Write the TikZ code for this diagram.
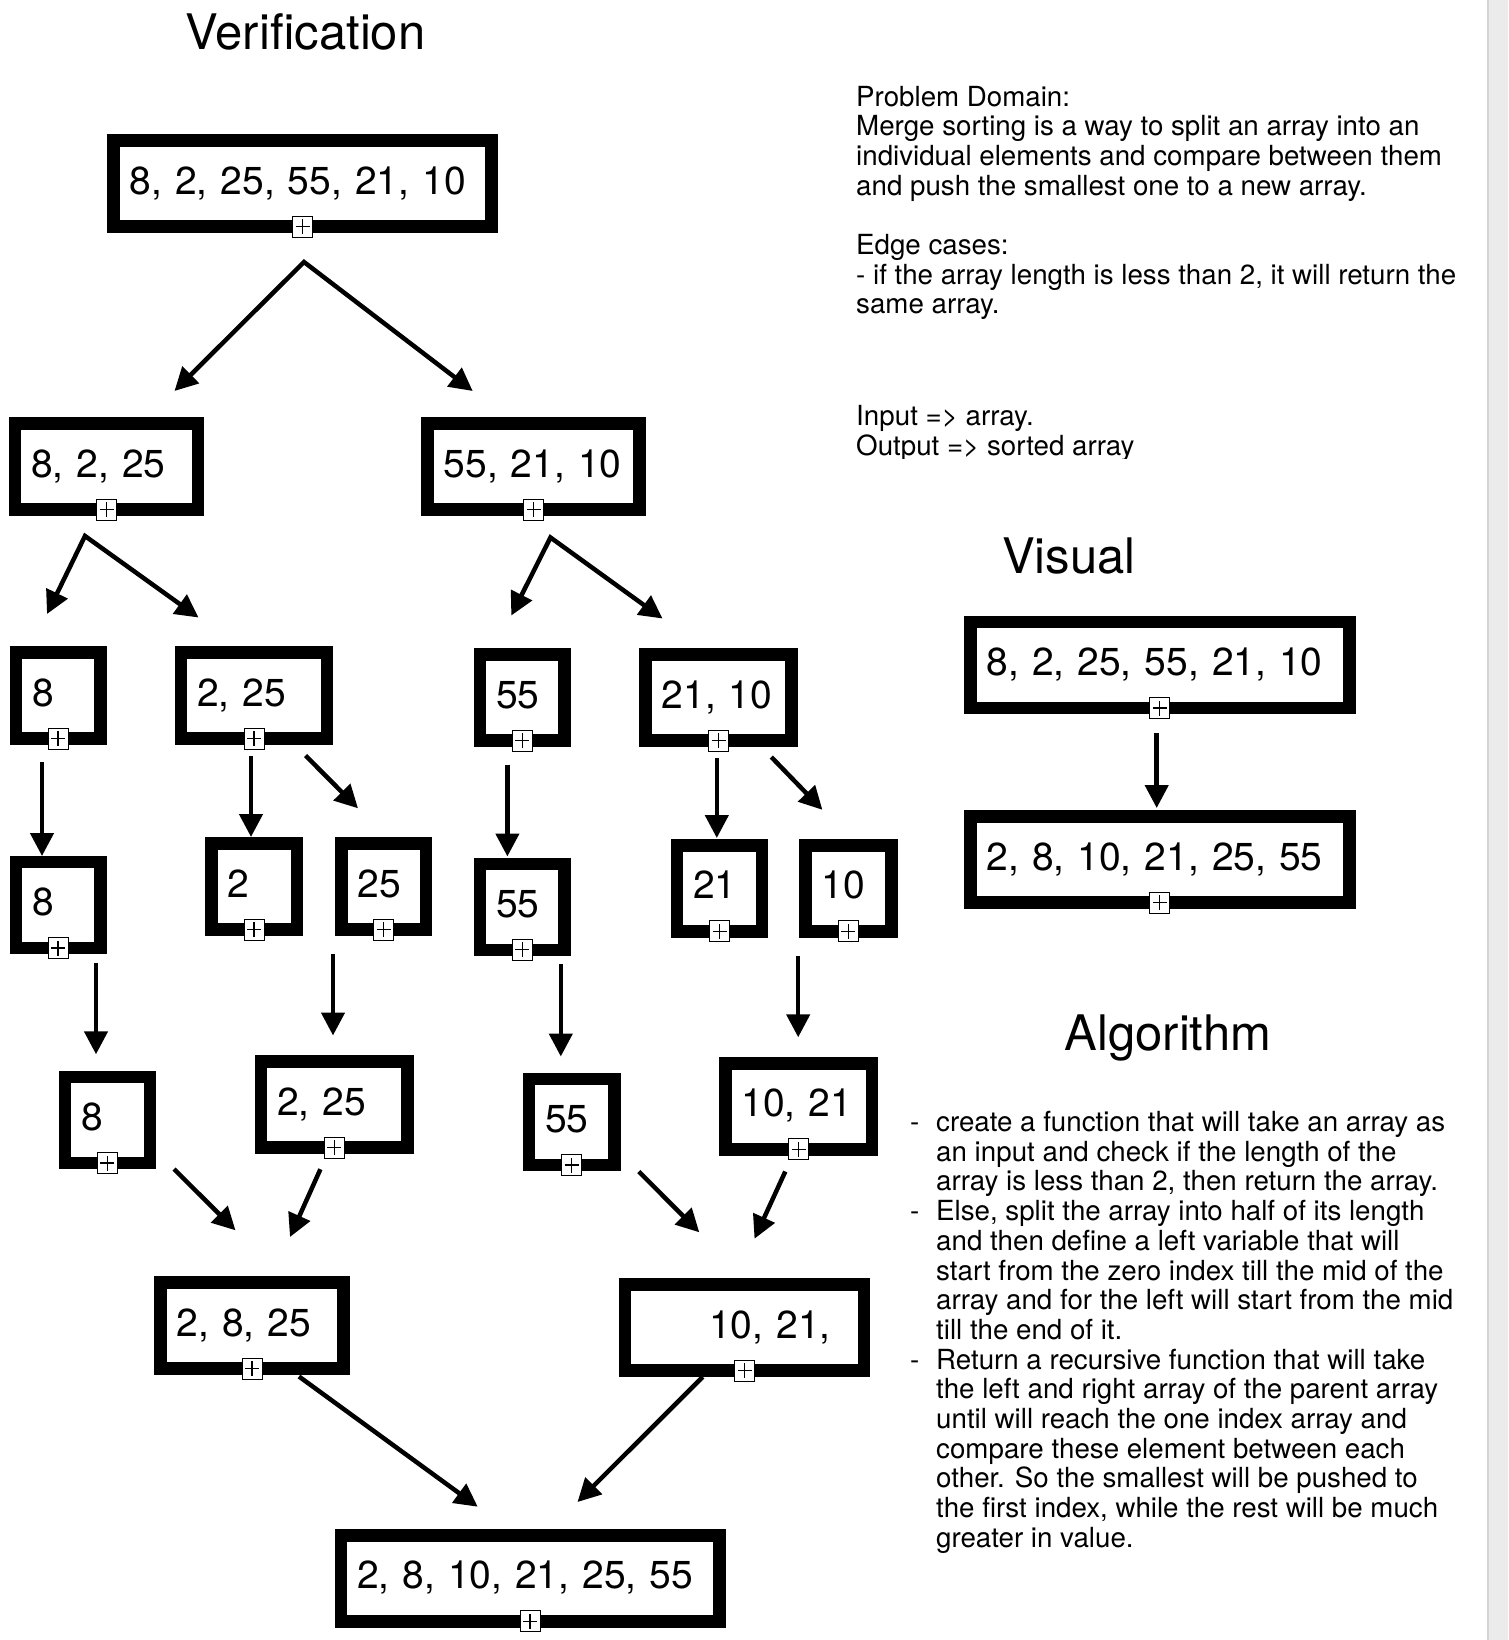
\documentclass[tikz,border=0pt]{standalone}
\usepackage{fontspec}
\setmainfont{TeX Gyre Heros}
\usetikzlibrary{arrows.meta}
\definecolor{stripgray}{HTML}{EBEBEB}
\definecolor{stripedge}{HTML}{D4D4D4}

\begin{document}
\begin{tikzpicture}[x=1pt, y=-1pt,
    box/.style={draw, line width=12.5pt, fill=white, inner xsep=16.25pt, inner ysep=0pt, outer sep=0pt,
      minimum height=86pt, align=left, text height=27.5pt, text depth=6.5pt,
      font=\fontsize{39}{46}\selectfont},
    plusmark/.style={draw, fill=white, line width=1pt, minimum width=20pt, minimum height=21pt, inner sep=0pt,
      path picture={\draw[line width=1.3pt]
        ([xshift=-7pt]path picture bounding box.center) -- ([xshift=7pt]path picture bounding box.center)
        ([yshift=-7.5pt]path picture bounding box.center) -- ([yshift=7.5pt]path picture bounding box.center);}},
    title/.style={anchor=base, inner sep=0pt, font=\fontsize{49}{58}\selectfont},
    body/.style={anchor=base west, inner sep=0pt, align=left, font=\fontsize{27.7}{29.7}\selectfont},
    arr/.style={line width=4.5pt, -{Triangle[length=23pt, width=23pt]}},
    arrs/.style={line width=4.5pt, {Triangle[length=23pt, width=23pt]}-{Triangle[length=23pt, width=23pt]}}]

    \useasboundingbox (0,0) rectangle (1508,1640);
    \fill[stripgray] (1488,0) rectangle (1508,1640);
    \draw[stripedge, line width=1.5pt] (1488,0) -- (1488,1640);

    % split side
    \node[title] (ver) at (305.5,50) {Verification};
    \node[box, text width=345.5pt] (all) at (302.5,183.5) {8, 2, 25, 55, 21, 10};
    \node[box, text width=150.5pt] (lh) at (106.5,466.5) {8, 2, 25};
    \node[box, text width=179.5pt] (rh) at (533.5,466.5) {55, 21, 10};
    \node[box, text width=52pt] (l1) at (58,695.5) {8};
    \node[box, text width=113.5pt] (l2) at (254,695.5) {2, 25};
    \node[box, text width=52pt] (r1) at (522.3,697.5) {55};
    \node[box, text width=113.5pt] (r2) at (718.5,697.5) {21, 10};
    \node[box, text width=52pt] (l11) at (58,905) {8};
    \node[box, text width=53pt] (l21) at (254,886.5) {2};
    \node[box, text width=52pt] (l22) at (383.6,886.5) {25};
    \node[box, text width=52pt] (r11) at (522.3,906.8) {55};
    \node[box, text width=52.5pt] (r21) at (719.5,888.3) {21};
    \node[box, text width=53.5pt] (r22) at (848.3,888.3) {10};

    % merge side
    \node[box, text width=52.5pt] (ml1) at (107.4,1120) {8};
    \node[box, text width=114pt] (ml2) at (334.2,1104.5) {2, 25};
    \node[box, text width=53pt] (mr1) at (571.5,1122) {55};
    \node[box, text width=114pt] (mr2) at (798.5,1106.3) {10, 21};
    \node[box, text width=150.5pt] (ml) at (252,1325.5) {2, 8, 25};
    \node[box, text width=206.5pt] (mr) at (744.5,1327.5) {\hspace*{68pt}10, 21,};
    \node[box, text width=346pt] (res) at (530,1578.3) {2, 8, 10, 21, 25, 55};

    % visual
    \node[title] (vis) at (1069,573.3) {Visual};
    \node[box, text width=346.5pt] (vin) at (1159.8,665) {8, 2, 25, 55, 21, 10};
    \node[box, text width=346.5pt] (vout) at (1159.8,859.7) {2, 8, 10, 21, 25, 55};

    \foreach \n in {all,lh,rh,l1,l2,r1,r2,l11,l21,l22,r11,r21,r22,ml1,ml2,mr1,mr2,ml,mr,res,vin,vout}
      \node[plusmark] (p\n) at (\n.south) {};

    % arrow ends
    \coordinate (s1) at (304,262);
    \coordinate (t1) at (174.5,391);
    \coordinate (t2) at (472.7,391);
    \coordinate (s2) at (85,536);
    \coordinate (t3) at (47,614);
    \coordinate (t4) at (198.5,617.5);
    \coordinate (s3) at (550.5,537.5);
    \coordinate (t5) at (511.3,615.5);
    \coordinate (t6) at (662.5,618.5);
    \coordinate (s7) at (42,762.3);
    \coordinate (t7) at (42,856);
    \coordinate (s8) at (251,755.5);
    \coordinate (t8) at (251,837);
    \coordinate (s9) at (305.5,755.5);
    \coordinate (t9) at (358,808.3);
    \coordinate (s10) at (507.4,764.6);
    \coordinate (t10) at (507.4,856.5);
    \coordinate (s11) at (716.8,757.5);
    \coordinate (t11) at (716.8,838);
    \coordinate (s12) at (771.3,757);
    \coordinate (t12) at (822.4,809.8);
    \coordinate (s13) at (96,962.8);
    \coordinate (t13) at (96,1054.3);
    \coordinate (s14) at (333,954);
    \coordinate (t14) at (333,1035.5);
    \coordinate (s15) at (560.8,964);
    \coordinate (t15) at (560.8,1056.5);
    \coordinate (s16) at (798.2,956);
    \coordinate (t16) at (798.2,1037.3);
    \coordinate (s17) at (174,1169);
    \coordinate (t17) at (235.5,1230.3);
    \coordinate (s18) at (320.4,1169.2);
    \coordinate (t18) at (290,1237);
    \coordinate (s19) at (638.8,1171.5);
    \coordinate (t19) at (699.3,1232.3);
    \coordinate (s20) at (785.3,1171.5);
    \coordinate (t20) at (754.5,1238.7);
    \coordinate (s21) at (299,1376.5);
    \coordinate (t21) at (477.7,1506.7);
    \coordinate (s22) at (702.8,1376.8);
    \coordinate (t22) at (577.5,1502);
    \coordinate (s23) at (1156.7,733.2);
    \coordinate (t23) at (1156.7,808);

    \draw[arrs] (t1) -- (s1) -- (t2);
    \draw[arrs] (t3) -- (s2) -- (t4);
    \draw[arrs] (t5) -- (s3) -- (t6);
    \draw[arr] (s7) -- (t7);
    \draw[arr] (s8) -- (t8);
    \draw[arr] (s9) -- (t9);
    \draw[arr] (s10) -- (t10);
    \draw[arr] (s11) -- (t11);
    \draw[arr] (s12) -- (t12);
    \draw[arr] (s13) -- (t13);
    \draw[arr] (s14) -- (t14);
    \draw[arr] (s15) -- (t15);
    \draw[arr] (s16) -- (t16);
    \draw[arr] (s17) -- (t17);
    \draw[arr] (s18) -- (t18);
    \draw[arr] (s19) -- (t19);
    \draw[arr] (s20) -- (t20);
    \draw[arr] (s21) -- (t21);
    \draw[arr] (s22) -- (t22);
    \draw[arr] (s23) -- (t23);

    % notes (base = last line)
    \node[body] (dom) at (856,313.9) {Problem Domain:\\
      Merge sorting is a way to split an array into an\\
      individual elements and compare between them\\
      and push the smallest one to a new array.\\[29.7pt]
      Edge cases:\\
      - if the array length is less than 2, it will return the\\
      same array.};
    \begin{scope}
      \clip (840,400) rectangle (1480,458.5);
      \node[body] (io) at (856,455.2) {Input => array.\\Output => sorted array};
    \end{scope}

    \node[title] (alg) at (1168,1050) {Algorithm};
    \node[body] (steps) at (936,1547.3) {\llap{-\hspace{16.8pt}}create a function that will take an array as\\
      an input and check if the length of the\\
      array is less than 2, then return the array.\\
      \llap{-\hspace{16.8pt}}Else, split the array into half of its length\\
      and then define a left variable that will\\
      start from the zero index till the mid of the\\
      array and for the left will start from the mid\\
      till the end of it.\\
      \llap{-\hspace{16.8pt}}Return a recursive function that will take\\
      the left and right array of the parent array\\
      until will reach the one index array and\\
      compare these element between each\\
      other. So the smallest will be pushed to\\
      the first index, while the rest will be much\\
      greater in value.};
\end{tikzpicture}
\end{document}
